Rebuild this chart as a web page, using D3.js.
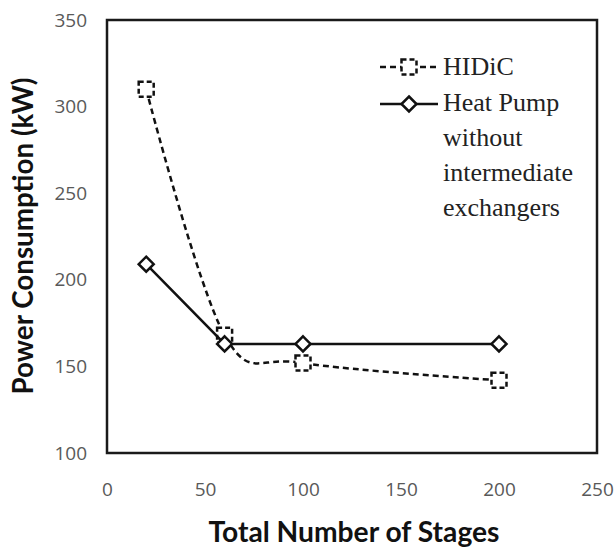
<!DOCTYPE html>
<html>
<head>
<meta charset="utf-8">
<script src="https://cdn.jsdelivr.net/npm/d3@7"></script>
<style>
  body { margin: 0; background: #fff; }
</style>
</head>
<body>
<script>
// data
const stages = [20, 60, 100, 200];
const hidic = [310, 168, 152, 142];
const heatPump = [209, 163, 163, 163];
const xTicks = [0, 50, 100, 150, 200, 250];
const yTicks = [100, 150, 200, 250, 300, 350];
const legendNames = ["HIDiC", "Heat Pump"];
const legendExtra = ["without", "intermediate", "exchangers"];

const w = 615, h = 548;
const padL = 107, padR = 597, padT = 20, padB = 453;

const xScale = d3.scaleLinear().domain([0, 250]).range([padL, padR]);
const yScale = d3.scaleLinear().domain([100, 350]).range([padB, padT]);

const svg = d3.select("body").append("svg")
  .attr("width", w)
  .attr("height", h);

// axes, labels only
const xAxis = d3.axisBottom(xScale).tickValues(xTicks).tickSize(0).tickPadding(30);
const gx = svg.append("g")
  .attr("transform", "translate(0," + padB + ")")
  .call(xAxis);
const yAxis = d3.axisLeft(yScale).tickValues(yTicks).tickSize(0).tickPadding(20);
const gy = svg.append("g")
  .attr("transform", "translate(" + padL + ",0)")
  .call(yAxis);
[gx, gy].forEach(function(g) {
  g.select(".domain").remove();
  g.selectAll("text")
    .attr("fill", "#595959")
    .style("font-family", "'Open Sans', sans-serif")
    .style("font-size", "19px");
});

// plot box
svg.append("rect")
  .attr("x", padL).attr("y", padT)
  .attr("width", padR - padL).attr("height", padB - padT)
  .attr("fill", "none")
  .attr("stroke", "#1a1a1a")
  .attr("stroke-width", 2.5);

const hidicData = stages.map((s, i) => [s, hidic[i]]);
const hpData = stages.map((s, i) => [s, heatPump[i]]);

// excel-like smoothed line
const smooth = d3.line()
  .x(d => xScale(d[0])).y(d => yScale(d[1]))
  .curve(d3.curveCardinal.tension(0));
const straight = d3.line()
  .x(d => xScale(d[0])).y(d => yScale(d[1]));

svg.append("path")
  .attr("d", smooth(hidicData))
  .attr("fill", "none")
  .attr("stroke", "#111")
  .attr("stroke-width", 2.5)
  .attr("stroke-dasharray", "6,4");

svg.selectAll(".sq")
  .data(hidicData)
  .enter()
  .append("rect")
  .attr("class", "sq")
  .attr("x", d => xScale(d[0]) - 7.5)
  .attr("y", d => yScale(d[1]) - 7.5)
  .attr("width", 15).attr("height", 15)
  .attr("fill", "#fff")
  .attr("stroke", "#111")
  .attr("stroke-width", 2.5)
  .attr("stroke-dasharray", "5,3");

svg.append("path")
  .attr("d", straight(hpData))
  .attr("fill", "none")
  .attr("stroke", "#111")
  .attr("stroke-width", 2.5);

const diamond = "M0,-7.5L7.5,0L0,7.5L-7.5,0Z";
svg.selectAll(".dm")
  .data(hpData)
  .enter()
  .append("path")
  .attr("class", "dm")
  .attr("d", diamond)
  .attr("transform", d => "translate(" + xScale(d[0]) + "," + yScale(d[1]) + ")")
  .attr("fill", "#fff")
  .attr("stroke", "#111")
  .attr("stroke-width", 2.5);

// legend
const lg = svg.append("g");
lg.append("line")
  .attr("x1", 380).attr("x2", 438).attr("y1", 67).attr("y2", 67)
  .attr("stroke", "#111").attr("stroke-width", 2.5).attr("stroke-dasharray", "6,4");
lg.append("rect")
  .attr("x", 401.5).attr("y", 59.5).attr("width", 15).attr("height", 15)
  .attr("fill", "#fff").attr("stroke", "#111").attr("stroke-width", 2.5)
  .attr("stroke-dasharray", "5,3");
lg.append("line")
  .attr("x1", 380).attr("x2", 438).attr("y1", 104).attr("y2", 104)
  .attr("stroke", "#111").attr("stroke-width", 2.5);
lg.append("path")
  .attr("d", diamond)
  .attr("transform", "translate(409,104)")
  .attr("fill", "#fff").attr("stroke", "#111").attr("stroke-width", 2.5);

const lines = legendNames.concat(legendExtra);
const baselines = [75, 111, 146, 181, 216];
lg.selectAll("text")
  .data(lines)
  .enter()
  .append("text")
  .attr("x", 443)
  .attr("y", (d, i) => baselines[i])
  .attr("fill", "#222")
  .style("font-family", "'Liberation Serif', 'Times New Roman', serif")
  .style("font-size", "26px")
  .text(d => d);

// axis titles
svg.append("text")
  .attr("x", 354).attr("y", 542)
  .attr("text-anchor", "middle")
  .attr("textLength", 291).attr("lengthAdjust", "spacingAndGlyphs")
  .attr("fill", "#111")
  .style("font-family", "Lato, sans-serif")
  .style("font-weight", "bold")
  .style("font-size", "28px")
  .text("Total Number of Stages");

svg.append("text")
  .attr("transform", "translate(33,236) rotate(-90)")
  .attr("text-anchor", "middle")
  .attr("textLength", 317).attr("lengthAdjust", "spacingAndGlyphs")
  .attr("fill", "#111")
  .style("font-family", "Lato, sans-serif")
  .style("font-weight", "bold")
  .style("font-size", "28px")
  .text("Power Consumption (kW)");
</script>
</body>
</html>
